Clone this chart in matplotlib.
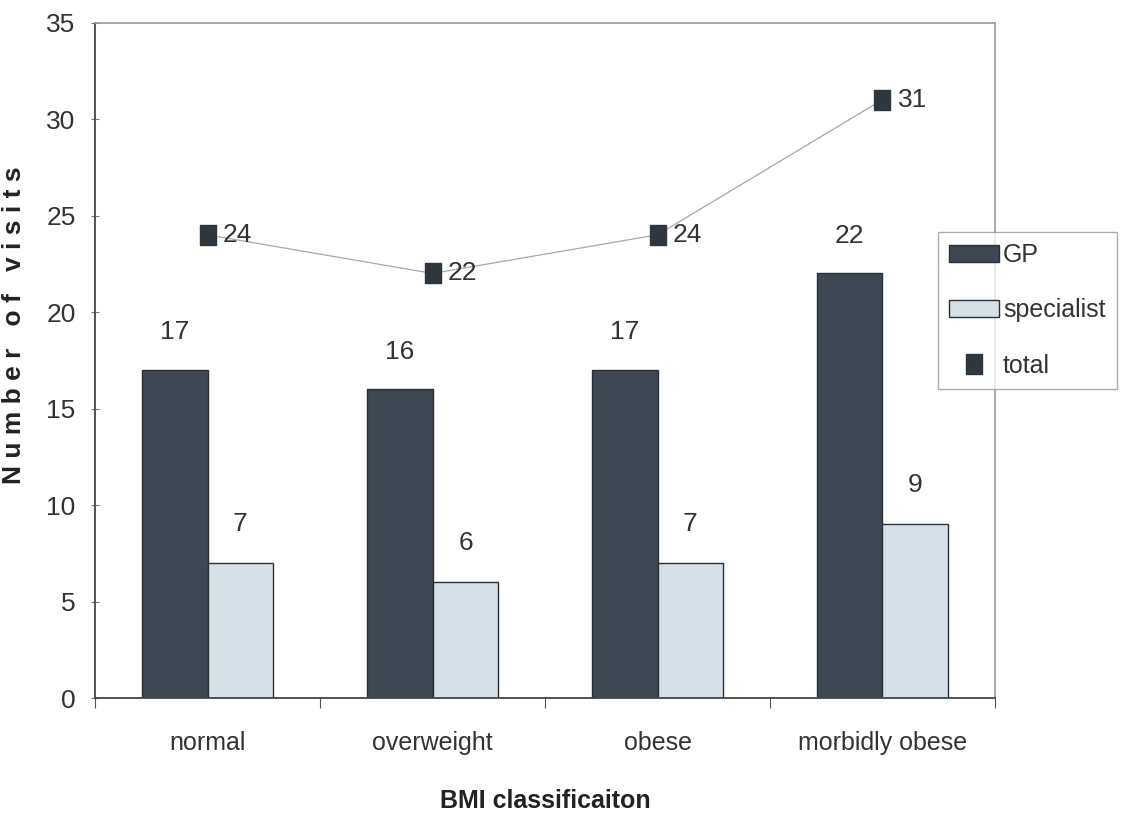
import matplotlib
matplotlib.use("Agg")
import matplotlib.pyplot as plt
import numpy as np

categories = ["normal", "overweight", "obese", "morbidly obese"]
gp = [17, 16, 17, 22]
specialist = [7, 6, 7, 9]
total = [24, 22, 24, 31]
y_ticks = [0, 5, 10, 15, 20, 25, 30, 35]

plt.rcParams["font.family"] = ["Liberation Sans", "DejaVu Sans"]

gp_color = "#3e4852"
sp_color = "#d6e0e7"
edge = "#2a2f35"
text_color = "#333333"

fig = plt.figure(figsize=(11.22, 8.25), dpi=100)
ax = fig.add_axes([0.0847, 0.1539, 0.8021, 0.8188])

x = np.arange(len(categories))
w = 0.293
b1 = ax.bar(x - w / 2, gp, width=w, color=gp_color, edgecolor=edge, linewidth=1.0, label="GP")
b2 = ax.bar(x + w / 2, specialist, width=w, color=sp_color, edgecolor=edge, linewidth=1.0, label="specialist")

rect_marker = [(-0.4, -0.5), (0.4, -0.5), (0.4, 0.5), (-0.4, 0.5), (-0.4, -0.5)]
ax.plot(x, total, color="#a8a8a8", linewidth=0.9, zorder=3)
tot_line, = ax.plot(x, total, linestyle="none", marker=rect_marker, markersize=15,
                    color="#2f363d", zorder=4, label="total")

for xi, v in zip(x - w / 2, gp):
    ax.annotate(str(v), (xi, v), xytext=(0, 27), textcoords="offset points",
                ha="center", va="center", fontsize=19, color=text_color)
for xi, v in zip(x + w / 2, specialist):
    ax.annotate(str(v), (xi, v), xytext=(0, 28), textcoords="offset points",
                ha="center", va="center", fontsize=19, color=text_color)
for xi, v in zip(x, total):
    ax.annotate(str(v), (xi, v), xytext=(11, 0), textcoords="offset points",
                ha="left", va="center", fontsize=19, color=text_color)

ax.set_xlim(-0.5, len(categories) - 0.5)
ax.set_ylim(0, 35)
ax.set_yticks(y_ticks)
ax.set_yticklabels([str(t) for t in y_ticks], fontsize=19, color=text_color)
ax.set_xticks(np.arange(len(categories) + 1) - 0.5)
ax.set_xticklabels([])
ax.set_xticks(x, minor=True)
ax.set_xticklabels(categories, minor=True, fontsize=18, color=text_color)
ax.tick_params(axis="x", which="major", direction="out", length=7, color="#555555")
ax.tick_params(axis="x", which="minor", length=0, pad=24)
ax.tick_params(axis="y", direction="inout", length=6, color="#777777", pad=11)

for side in ("left", "bottom"):
    ax.spines[side].set_color("#444444")
    ax.spines[side].set_linewidth(1.3)
for side in ("top", "right"):
    ax.spines[side].set_color("#9a9a9a")
    ax.spines[side].set_linewidth(1.2)

ax.set_xlabel("BMI classificaiton", fontsize=18, fontweight="bold", color="#222222", labelpad=24)
ylab = " ".join("Number of visits")
ax.set_ylabel(ylab, fontsize=19, fontweight="bold", color="#222222")
ax.yaxis.set_label_coords(-0.077, 0.552)

leg = ax.legend(handles=[b1, b2, tot_line], labels=["GP", "specialist", "total"],
                loc="upper left", bbox_to_anchor=(0.836, 0.719), bbox_transform=fig.transFigure,
                fontsize=18, frameon=True, fancybox=False, edgecolor="#999999",
                handlelength=2.0, handleheight=0.7, handletextpad=0.15,
                labelspacing=1.25, borderpad=0.45, borderaxespad=0)
for t in leg.get_texts():
    t.set_color(text_color)
leg.get_frame().set_linewidth(1.0)

fig.savefig("out.png", dpi=100, facecolor="white")
